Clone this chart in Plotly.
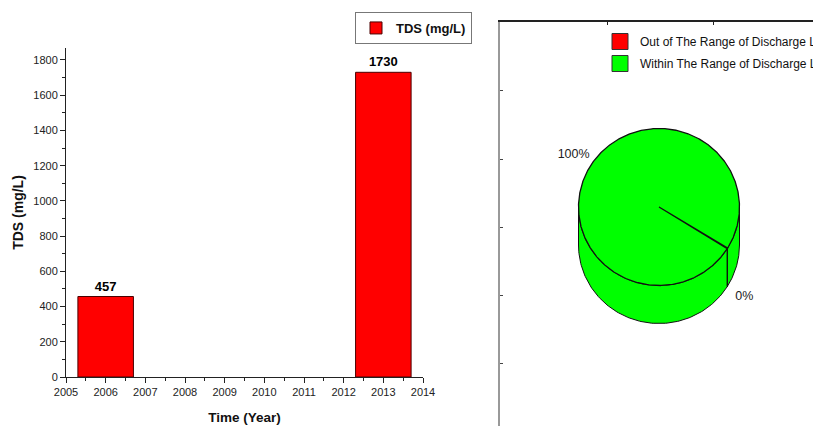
import subprocess
import numpy as np
import plotly.graph_objects as go

# ---------------- data ----------------
years = [2006, 2013]
tds_values = [457, 1730]
x_tick_years = list(range(2005, 2015))
y_tick_values = list(range(0, 1801, 200))
bar_series_name = "TDS (mg/L)"

pie_labels = ["Out of The Range of Discharge Limit", "Within The Range of Discharge Limit"]
pie_percent = [0, 100]
pie_colors = ["#FF0000", "#00FF00"]

# ---------------- layout constants ----------------
W, H = 813, 426
PIE_RX, PIE_RY, PIE_DEPTH = 80.5, 78.5, 38.0
PIE_START_DEG = -32.0
LABEL_R = 1.25

try:
    fonts = subprocess.run(["fc-list"], capture_output=True, text=True).stdout
except Exception:
    fonts = ""
if "Liberation Sans Narrow" in fonts:
    NARROW = "Liberation Sans Narrow"
    NARROW_LEG, NARROW_LBL = 14, 14
else:
    NARROW = "Liberation Sans"
    NARROW_LEG, NARROW_LBL = 12, 12.5
BASE = "Liberation Sans, Arial, sans-serif"

fig = go.Figure()

# ---------------- bar chart ----------------
fig.add_trace(go.Bar(
    x=years, y=tds_values, width=1.4, name=bar_series_name,
    marker=dict(color="#FF0000", line=dict(color="#4a0000", width=1)),
    text=tds_values, texttemplate="<b>%{text}</b>", textposition="outside",
    textfont=dict(size=13, color="black", family=BASE),
    cliponaxis=False, legend="legend", xaxis="x", yaxis="y",
))

# ---------------- pseudo 3D pie ----------------
def rim(t_deg, dy=0.0):
    t = np.radians(t_deg)
    return PIE_RX * np.cos(t), PIE_RY * np.sin(t) + dy

total = float(sum(pie_percent))
bounds = [PIE_START_DEG]
for p in pie_percent:
    bounds.append(bounds[-1] + 360.0 * p / total)

# side walls (front half only: angles where sin < 0)
for i, p in enumerate(pie_percent):
    a0, a1 = bounds[i], bounds[i + 1]
    if a1 <= a0:
        continue
    for k in range(-2, 3):
        s = max(a0, 180 + 360 * k)
        e = min(a1, 360 + 360 * k)
        if e <= s:
            continue
        t = np.linspace(s, e, 120)
        xt, yt = rim(t)
        xb, yb = rim(t[::-1], -PIE_DEPTH)
        xs = np.concatenate([xt, xb, xt[:1]])
        ys = np.concatenate([yt, yb, yt[:1]])
        fig.add_trace(go.Scatter(
            x=xs, y=ys, mode="lines", fill="toself", fillcolor=pie_colors[i],
            line=dict(color="#111", width=1), showlegend=False, hoverinfo="skip",
            xaxis="x2", yaxis="y2",
        ))

# top face wedges
for i, p in enumerate(pie_percent):
    a0, a1 = bounds[i], bounds[i + 1]
    t = np.linspace(a0, a1, max(2, int(abs(a1 - a0)) * 2 + 2))
    xr, yr = rim(t)
    xs = np.concatenate([[0], xr, [0]])
    ys = np.concatenate([[0], yr, [0]])
    fig.add_trace(go.Scatter(
        x=xs, y=ys, mode="lines", fill="toself", fillcolor=pie_colors[i],
        line=dict(color="#111", width=1.3), showlegend=False, hoverinfo="skip",
        xaxis="x2", yaxis="y2",
    ))

# vertical edges at slice boundaries on the front side
for b in sorted(set([round(v % 360, 6) for v in bounds])):
    if np.sin(np.radians(b)) < 0:
        x0, y0 = rim(b)
        fig.add_trace(go.Scatter(
            x=[x0, x0], y=[y0, y0 - PIE_DEPTH], mode="lines",
            line=dict(color="#111", width=1), showlegend=False, hoverinfo="skip",
            xaxis="x2", yaxis="y2",
        ))

# percentage labels
lx, ly, lt = [], [], []
for i, p in enumerate(pie_percent):
    mid = (bounds[i] + bounds[i + 1]) / 2.0
    x0, y0 = rim(mid)
    x0, y0 = x0 * LABEL_R, y0 * LABEL_R
    if np.sin(np.radians(mid)) < 0:
        y0 -= PIE_DEPTH
    lx.append(x0); ly.append(y0); lt.append(f"{p}%")
fig.add_trace(go.Scatter(
    x=lx, y=ly, mode="text", text=lt,
    textfont=dict(family=NARROW, size=NARROW_LBL, color="#222"),
    showlegend=False, hoverinfo="skip", xaxis="x2", yaxis="y2",
))

# pie legend entries
for i, (lab, col) in enumerate(zip(pie_labels, pie_colors)):
    fig.add_trace(go.Scatter(
        x=[None], y=[None], mode="markers", name=lab, legendgroup=f"pie{i}",
        marker=dict(symbol="square", size=16, color=col, line=dict(color="#333", width=1)),
        legend="legend2", xaxis="x2", yaxis="y2",
    ))

fig.update_layout(
    width=W, height=H, autosize=False,
    margin=dict(l=0, r=0, t=0, b=0, pad=0, autoexpand=False),
    paper_bgcolor="white", plot_bgcolor="white",
    font=dict(family=BASE, color="#222"),
    xaxis=dict(
        domain=[66 / W, 423 / W], range=[2005, 2014], anchor="y",
        tickmode="array", tickvals=x_tick_years, ticks="outside", ticklen=5,
        tickcolor="#222", tickfont=dict(size=11, color="#222"),
        showline=True, linecolor="#222", linewidth=1,
        showgrid=False, zeroline=False,
        minor=dict(tickmode="linear", tick0=2005, dtick=0.5, ticks="outside",
                   ticklen=3, tickcolor="#222"),
        title=dict(text="<b>Time (Year)</b>", font=dict(size=13.5, color="#111"), standoff=15),
    ),
    yaxis=dict(
        domain=[1 - 377 / H, 1 - 48 / H], range=[0, 1868], anchor="x",
        tickmode="array", tickvals=y_tick_values, ticks="outside", ticklen=5,
        tickcolor="#222", tickfont=dict(size=11, color="#222"),
        showline=True, linecolor="#222", linewidth=1,
        showgrid=False, zeroline=False,
        minor=dict(tickmode="linear", tick0=0, dtick=100, ticks="outside",
                   ticklen=3, tickcolor="#222"),
        title=dict(text="<b>TDS (mg/L)</b>", font=dict(size=14, color="#111"), standoff=6),
    ),
    xaxis2=dict(
        domain=[500 / W, 1.0], range=[-159, 154], anchor="y2", side="top",
        showline=True, linecolor="#222", linewidth=1.5,
        tickmode="array", tickvals=[-52, 54], ticks="inside", ticklen=3, tickcolor="#222",
        showticklabels=False, showgrid=False, zeroline=False,
    ),
    yaxis2=dict(
        domain=[0, 1 - 22 / H], range=[-219, 185], anchor="x2",
        showline=True, linecolor="#999", linewidth=2,
        tickmode="array", tickvals=[117, 48, -20, -88, -156], ticks="inside", ticklen=3,
        tickcolor="#444", showticklabels=False, showgrid=False, zeroline=False,
    ),
    legend=dict(
        x=355 / W, y=1 - 12 / H, xanchor="left", yanchor="top",
        bordercolor="#777", borderwidth=1, bgcolor="white",
        font=dict(size=13, family=BASE, color="#111", weight="bold"),
    ),
    legend2=dict(
        x=600 / W, y=1 - 27 / H, xanchor="left", yanchor="top",
        bgcolor="rgba(0,0,0,0)", borderwidth=0, tracegroupgap=3,
        traceorder="grouped",
        font=dict(size=NARROW_LEG, family=NARROW, color="#111"),
    ),
    showlegend=True,
)

fig.write_html(
    "out.html",
    config={"displayModeBar": False},
    post_script="document.body.style.margin='0';document.body.style.overflow='hidden';",
)
